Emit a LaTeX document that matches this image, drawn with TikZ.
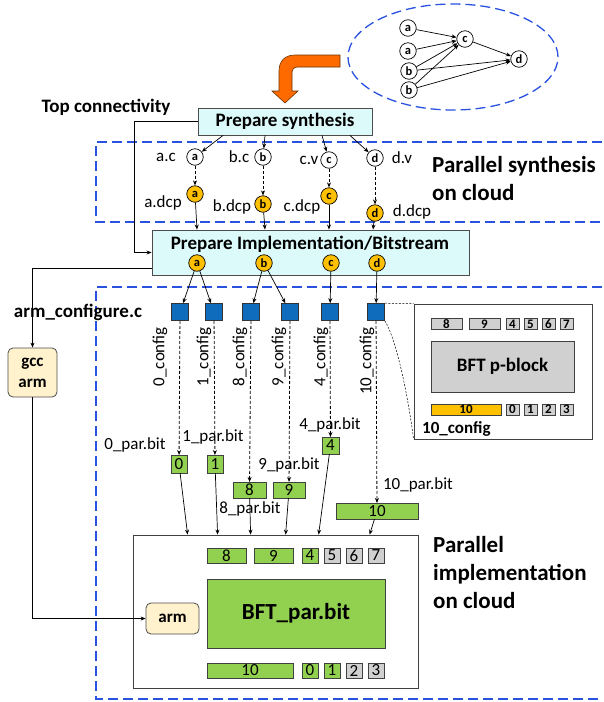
\documentclass[tikz,border=0pt]{standalone}
\usepackage{fontspec}
\setmainfont{Carlito}
\usetikzlibrary{arrows.meta}
\definecolor{cyanbox}{HTML}{DCFAFA}
\definecolor{orng}{HTML}{FFC000}
\definecolor{grn}{HTML}{92D050}
\definecolor{gry}{HTML}{D0D0D0}
\definecolor{sqblue}{HTML}{0F6CBD}
\definecolor{cream}{HTML}{FFF2CC}
\definecolor{dashblue}{HTML}{2A52E0}
\definecolor{arrorange}{HTML}{FF6A00}
\newcommand\fsz[2]{\fontsize{#1}{#2}\selectfont}
\begin{document}
\begin{tikzpicture}[x=1pt,y=-1pt,
  arr/.style={-{Stealth[length=5pt,width=4pt]},line width=0.7pt},
  darr/.style={arr,line width=0.8pt,dash pattern=on 3pt off 2pt},
  bdash/.style={draw=dashblue,line width=1.3pt,dash pattern=on 10pt off 5pt},
  cir/.style={circle,draw,line width=0.7pt,fill=white,inner sep=0pt,minimum size=16.5pt,font=\fsz{12.5}{13}\bfseries},
  ocir/.style={cir,fill=orng},
  lbl/.style={inner sep=0pt,font=\fsz{17}{20}},
  blbl/.style={inner sep=0pt,font=\fsz{19}{22}\bfseries},
  bigt/.style={inner sep=0pt,font=\fsz{23}{26}\bfseries},
  cell/.style={draw=black!75,line width=0.7pt,inner sep=0pt,outer sep=0pt,font=\fsz{17}{18}},
  gcell/.style={cell,fill=grn},
  ycell/.style={cell,fill=gry},
  pcell/.style={cell,fill=gry,font=\fsz{13}{14}\bfseries},
  sqb/.style={draw=black!80,fill=sqblue,line width=0.6pt,minimum size=17pt,inner sep=0pt},
  pbox/.style={draw=black!70,fill=cyanbox,line width=0.9pt,inner sep=0pt},
  rbox/.style={draw=black!70,fill=cream,rounded corners=5pt,line width=0.8pt,inner sep=0pt,font=\fsz{17}{21}\bfseries,align=center},
  frame/.style={draw=black!75,fill=white,line width=0.8pt,inner sep=0pt},
]
\useasboundingbox (0,0) rectangle (603,702);

% dashed regions
\draw[bdash] (602,142) -- (96,142) -- (96,222) -- (602,222);
\draw[bdash] (602,287) -- (96,287) -- (96,699) -- (602,699);
\draw[bdash] (453,57) ellipse [x radius=105pt, y radius=53pt];

% small graph
\node[cir] (ga1) at (408,28) {a};
\node[cir] (ga2) at (408,51) {a};
\node[cir] (gb1) at (409,71) {b};
\node[cir] (gb2) at (409,90) {b};
\node[cir] (gc) at (465,39) {c};
\node[cir] (gd) at (519,59) {d};
\draw[arr] (ga1) -- (gc);
\draw[arr] (ga2) -- (gc);
\draw[arr] (gb1) -- (gc);
\draw[arr] (gb2) -- (gc);
\draw[arr] (gb1) -- (gd);
\draw[arr] (gb2) -- (gd);
\draw[arr] (gc) -- (gd);

% orange arrow
\filldraw[fill=arrorange,draw=black!60!orange,line width=0.6pt]
  (340,55) -- (295,55) .. controls (285,55) and (279,61) .. (279,71) -- (279,91) -- (272,91)
  -- (285,103) -- (298,91) -- (292,91) -- (292,73) .. controls (292,69) and (294,67) .. (298,67)
  -- (340,67) -- cycle;

% titles
\node[blbl] (topconn) at (106,107) {Top connectivity};
\node[bigt,anchor=base west] (ps1) at (432,172) {Parallel synthesis};
\node[bigt,anchor=base west] (ps2) at (432,200) {on cloud};
\node[bigt,anchor=base west] (pi1) at (433,552) {Parallel};
\node[bigt,anchor=base west] (pi2) at (433,580) {implementation};
\node[bigt,anchor=base west] (pi3) at (433,608) {on cloud};
\node[blbl] (armconf) at (78,312) {arm\_configure.c};

% prepare synthesis
\node[pbox,minimum width=174pt,minimum height=27pt,font=\fsz{19}{22}\bfseries] (synth) at (285,121.5) {Prepare synthesis};

% synthesis circles
\node[cir] (sa) at (195,157) {a};
\node[cir] (sb) at (263,157) {b};
\node[cir] (sc) at (329,160) {c};
\node[cir] (sd) at (375,158) {d};
\node[ocir] (oa) at (195,194) {a};
\node[ocir] (ob) at (263,204) {b};
\node[ocir] (oc) at (329,196) {c};
\node[ocir] (od) at (375,213) {d};
\node[lbl] (lac) at (166,157) {a.c};
\node[lbl] (lbc) at (239,157) {b.c};
\node[lbl] (lcv) at (309,160) {c.v};
\node[lbl] (ldv) at (402,158) {d.v};
\node[lbl] (lad) at (163,203) {a.dcp};
\node[lbl] (lbd) at (232,207) {b.dcp};
\node[lbl] (lcd) at (302,207) {c.dcp};
\node[lbl] (ldd) at (412,212) {d.dcp};

% prepare implementation
\node[pbox,minimum width=317pt,minimum height=45pt] (impl) at (310.5,252.5) {};
\node[blbl] (impltxt) at (310,244) {Prepare Implementation/Bitstream};
\node[ocir] (ia) at (197,263) {a};
\node[ocir] (ib) at (264,263) {b};
\node[ocir] (ic) at (331,263) {c};
\node[ocir] (id) at (377,263) {d};

\draw[arr] ([xshift=-62pt]synth.south) -- (sa);
\draw[arr] ([xshift=-20pt]synth.south) -- (sb);
\draw[arr] ([xshift=37pt]synth.south) -- (sc);
\draw[arr] ([xshift=65pt]synth.south) -- (sd);
\draw[darr] (sa) -- (oa);
\draw[darr] (sb) -- (ob);
\draw[darr] (sc) -- (oc);
\draw[darr] (sd) -- (od);
\draw[arr] (oa) -- ([xshift=2pt]oa |- impl.north);
\draw[arr] (ob) -- ([xshift=2pt]ob |- impl.north);
\draw[arr] (oc) -- (oc |- impl.north);
\draw[arr] (od) -- ([xshift=-2pt]od |- impl.north);
\draw[arr] (synth.west) -| ([xshift=-17pt]impl.west) -- (impl.west);

% gcc arm
\node[rbox,minimum width=49pt,minimum height=49pt] (gcc) at (32.5,372.5) {gcc\\arm};
\draw[arr] ([yshift=-15.5pt]impl.west) -| (gcc.north);

% blue squares
\node[sqb] (sq0) at (180,312) {};
\node[sqb] (sq1) at (214,312) {};
\node[sqb] (sq8) at (251,312) {};
\node[sqb] (sq9) at (290,312) {};
\node[sqb] (sq4) at (330,312) {};
\node[sqb] (sq10) at (376,312) {};
\draw[arr] (ia) -- (sq0);
\draw[arr] (ia) -- (sq1);
\draw[arr] (ib) -- (sq8);
\draw[arr] (ib) -- (sq9);
\draw[arr] (ic) -- (sq4);
\draw[arr] (id) -- (sq10);

% config labels
\node[lbl,rotate=90,anchor=east] (c0) at (160,327) {0\_config};
\node[lbl,rotate=90,anchor=east] (c1) at (204,327) {1\_config};
\node[lbl,rotate=90,anchor=east] (c8) at (240,327) {8\_config};
\node[lbl,rotate=90,anchor=east] (c9) at (279,327) {9\_config};
\node[lbl,rotate=90,anchor=east] (c4) at (321,327) {4\_config};
\node[lbl,rotate=90,anchor=east] (c10) at (367,327) {10\_config};

% green partial bitstreams
\node[gcell,minimum width=16pt,minimum height=18pt] (g0) at (179,464) {0};
\node[gcell,minimum width=16pt,minimum height=18pt] (g1) at (215,464) {1};
\node[gcell,minimum width=33pt,minimum height=16pt] (g8) at (249.5,490) {8};
\node[gcell,minimum width=32pt,minimum height=16pt] (g9) at (289,490) {9};
\node[gcell,minimum width=17pt,minimum height=17pt] (g4) at (330.5,445.5) {4};
\node[gcell,minimum width=82pt,minimum height=16pt] (g10) at (377,511) {10};
\draw[darr] (sq0) -- (g0);
\draw[darr] (sq1) -- (g1);
\draw[darr] (sq8) -- (g8);
\draw[darr] (sq9) -- (g9);
\draw[darr] (sq4) -- (g4);
\draw[darr] (sq10) -- (g10);
\node[lbl] (p0) at (135,445) {0\_par.bit};
\node[lbl] (p1) at (213,437) {1\_par.bit};
\node[lbl] (p4) at (330,425) {4\_par.bit};
\node[lbl] (p9) at (289,465) {9\_par.bit};
\node[lbl] (p8) at (250,509) {8\_par.bit};
\node[lbl] (p10) at (418,485) {10\_par.bit};

% p-block panel
\node[frame,minimum width=178pt,minimum height=135pt] (panel) at (503,371.5) {};
\draw[line width=0.5pt,dash pattern=on 2pt off 1.5pt] (sq10.north east) -- (panel.north west);
\draw[line width=0.5pt,dash pattern=on 2pt off 1.5pt] (sq10.south east) .. controls (396,338) and (408,395) .. (panel.south west);
\node[pcell,minimum width=31pt,minimum height=11pt] (pp8) at (446.5,324) {8};
\node[pcell,minimum width=31pt,minimum height=11pt] (pp9) at (484.5,324) {9};
\node[pcell,minimum width=13pt,minimum height=11pt] (pp4) at (512.5,324) {4};
\node[pcell,minimum width=13pt,minimum height=11pt] (pp5) at (530.5,324) {5};
\node[pcell,minimum width=13pt,minimum height=11pt] (pp6) at (548.5,324) {6};
\node[pcell,minimum width=13pt,minimum height=11pt] (pp7) at (566.5,324) {7};
\node[cell,fill=gry,minimum width=143pt,minimum height=51pt,font=\fsz{19}{22}\bfseries] (pblk) at (502.5,366.5) {BFT p-block};
\node[pcell,fill=orng,minimum width=70pt,minimum height=11pt] (pp10) at (466,409.5) {10};
\node[pcell,minimum width=13pt,minimum height=11pt] (pp0) at (512.5,409.5) {0};
\node[pcell,minimum width=13pt,minimum height=11pt] (pp1) at (530.5,409.5) {1};
\node[pcell,minimum width=13pt,minimum height=11pt] (pp2) at (548.5,409.5) {2};
\node[pcell,minimum width=13pt,minimum height=11pt] (pp3) at (566.5,409.5) {3};
\node[inner sep=0pt,font=\fsz{17}{20}\bfseries,anchor=west] (cfg10) at (422,429) {10\_config};

% big implementation box
\node[frame,minimum width=285pt,minimum height=153pt] (bb) at (275.5,611.5) {};
\draw[arr] (g0) -- ([xshift=55pt]bb.north west);
\draw[arr] (g1) -- ([xshift=85pt]bb.north west);
\draw[arr] (g8) -- ([xshift=118pt]bb.north west);
\draw[arr] (g9) -- ([xshift=153pt]bb.north west);
\draw[arr] (g4) -- ([xshift=186pt]bb.north west);
\draw[arr] (g10) -- ([xshift=237pt]bb.north west);

\node[gcell,minimum width=39pt,minimum height=15pt] (b8) at (226.5,555.5) {8};
\node[gcell,minimum width=39pt,minimum height=15pt] (b9) at (273.5,555.5) {9};
\node[gcell,minimum width=16pt,minimum height=15pt] (b4) at (310,555.5) {4};
\node[ycell,minimum width=16pt,minimum height=15pt] (b5) at (332,555.5) {5};
\node[ycell,minimum width=16pt,minimum height=15pt] (b6) at (354,555.5) {6};
\node[ycell,minimum width=16pt,minimum height=15pt] (b7) at (376,555.5) {7};
\node[gcell,minimum width=178pt,minimum height=69pt,font=\fsz{23}{26}\bfseries] (bft) at (296,613.5) {BFT\_par.bit};
\node[gcell,minimum width=86pt,minimum height=15pt] (b10) at (250,670.5) {10};
\node[gcell,minimum width=16pt,minimum height=15pt] (b0) at (310,670.5) {0};
\node[gcell,minimum width=16pt,minimum height=15pt] (b1) at (332,670.5) {1};
\node[ycell,minimum width=16pt,minimum height=15pt] (b2) at (354,670.5) {2};
\node[ycell,minimum width=16pt,minimum height=15pt] (b3) at (376,670.5) {3};

\node[rbox,minimum width=53pt,minimum height=31pt] (arm) at (172.5,618.5) {arm};
\draw[arr] (gcc.south) |- (arm.west);
\end{tikzpicture}
\end{document}
